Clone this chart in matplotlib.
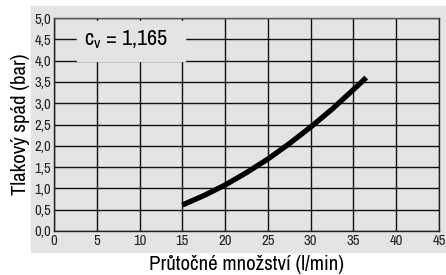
import matplotlib
matplotlib.use('Agg')
import matplotlib.pyplot as plt
from matplotlib.patches import Rectangle

# flow (l/min) vs pressure drop (bar)
flow = [15, 17.5, 20, 22.5, 25, 27.5, 30, 32.5, 35, 36.5]
dp = [0.61, 0.83, 1.08, 1.37, 1.69, 2.05, 2.44, 2.86, 3.32, 3.6]
xticks = [0, 5, 10, 15, 20, 25, 30, 35, 40, 45]
yticks = [0.0, 0.5, 1.0, 1.5, 2.0, 2.5, 3.0, 3.5, 4.0, 4.5, 5.0]
cv_label = '$\\mathregular{c_v}$ = 1,165'

plt.rcParams['font.family'] = ['Archivo Narrow', 'Liberation Sans', 'DejaVu Sans']
bg = '#e4e4e4'

fig = plt.figure(figsize=(4.46, 2.75), dpi=100)
fig.patches.append(Rectangle((31/446, 1-252/275), 1-31/446, (252-6)/275,
                             transform=fig.transFigure, color=bg, zorder=-1))
ax = fig.add_axes([54/446, 1-231/275, (439-54)/446, (231-18)/275])
ax.set_facecolor(bg)

ax.set_xlim(0, 45)
ax.set_ylim(0, 5)
ax.set_xticks(xticks)
ax.set_yticks(yticks)
ax.set_xticklabels([str(t) for t in xticks])
ax.set_yticklabels([('%.1f' % t).replace('.', ',') for t in yticks])
ax.tick_params(length=0, labelsize=10.5, pad=2, colors='#222222')
ax.grid(True, color='#111111', lw=1.0)
ax.set_axisbelow(True)
for s in ax.spines.values():
    s.set_color('#222222')
    s.set_linewidth(1.0)
ax.spines['top'].set_color('#555555')

# box hiding the grid behind the cv label
ax.add_patch(Rectangle((2.7, 4.0), 12.6, 0.93, color=bg, zorder=2))
ax.text(8.4, 4.5, cv_label, fontsize=16, ha='center', va='center', zorder=3)

ax.plot(flow, dp, color='black', lw=3.8, solid_capstyle='butt', zorder=4)

ax.set_xlabel('Průtočné množství (l/min)', fontsize=15, labelpad=5)
ax.set_ylabel('Tlakový spád (bar)', fontsize=15, labelpad=3)

fig.savefig('out.png', dpi=100)
